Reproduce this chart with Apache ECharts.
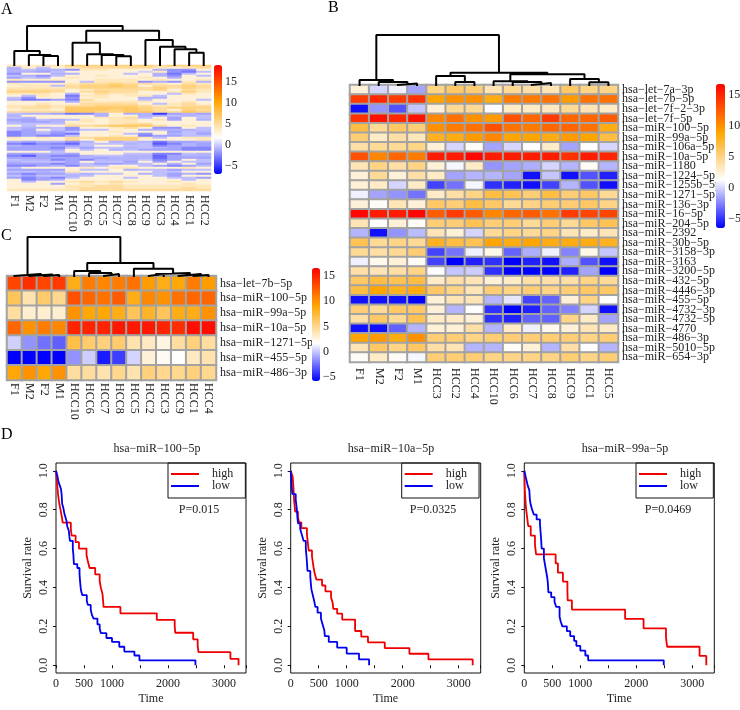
<!DOCTYPE html>
<html><head><meta charset="utf-8">
<style>html,body{margin:0;padding:0;background:#fff}#c{width:740px;height:710px}</style>
<script src="https://cdn.jsdelivr.net/npm/echarts@6/dist/echarts.min.js"></script>
</head><body><div id="c"></div>
<script>
const FONT='"Liberation Serif",serif';
const colsA=['F1','M2','F2','M1','HCC10','HCC6','HCC5','HCC7','HCC8','HCC9','HCC3','HCC4','HCC1','HCC2'];
const colsB=['F1','M2','F2','M1','HCC3','HCC2','HCC4','HCC10','HCC6','HCC7','HCC8','HCC9','HCC1','HCC5'];
const colsC=['F1','M2','F2','M1','HCC10','HCC6','HCC7','HCC8','HCC5','HCC2','HCC3','HCC9','HCC1','HCC4'];
const rowsB=['hsa−let−7a−3p','hsa−let−7b−5p','hsa−let−7f−2−3p','hsa−let−7f−5p','hsa−miR−100−5p','hsa−miR−99a−5p','hsa−miR−106a−5p','hsa−miR−10a−5p','hsa−miR−1180','hsa−miR−1224−5p','hsa−miR−1255b−5p','hsa−miR−1271−5p','hsa−miR−136−3p','hsa−miR−16−5p','hsa−miR−204−5p','hsa−miR−2392','hsa−miR−30b−5p','hsa−miR−3158−3p','hsa−miR−3163','hsa−miR−3200−5p','hsa−miR−432−5p','hsa−miR−4446−3p','hsa−miR−455−5p','hsa−miR−4732−3p','hsa−miR−4732−5p','hsa−miR−4770','hsa−miR−486−3p','hsa−miR−5010−5p','hsa−miR−654−3p'];
const rowsC=['hsa−let−7b−5p','hsa−miR−100−5p','hsa−miR−99a−5p','hsa−miR−10a−5p','hsa−miR−1271−5p','hsa−miR−455−5p','hsa−miR−486−3p'];
const valuesB=[
[2.5,0,0.8,-1.5,5,6,5.5,3.5,4.5,4,3.5,6,5,5],
[14,15,14,14.5,9,10,10,8.5,11,11,11.5,9.5,11.5,11.5],
[-6,-2,-4,-0.5,2.5,4.5,4.5,1.2,3,3,3.2,4.5,3.5,3],
[14.5,16,15,16,10.5,11.5,10,9.5,13,12,14,12,12,12.5],
[7,4.5,6,5.5,10,11,11.5,13,11.5,11,12,12,11.5,8.5],
[5.5,3,4,3.3,8,8.5,9.5,10.5,9,9,8.5,9.5,9,7],
[4,4.5,4.5,5,2.5,0,1.5,-1.5,0,1.2,3,-1.5,1.2,0],
[13,10.5,12,11,15.5,15.5,16.5,15.5,15.5,15.5,15.5,14.5,15.5,15],
[3.5,5,4,5,2.5,1,3,-2,-1.5,-1.2,0,-1,1.5,-1],
[2.5,4.5,2.5,4,3,-1.5,-1,-1,-1.5,-6,-0.5,-6,-4,-5.5],
[2.5,3,0,3,-4.5,-3,1,-5,-5.5,-6,-4.5,-1,-4,-6],
[0.8,-1.5,-2,-3,3,4,5,7,6.5,5.5,7,5.5,6,4.5],
[2.5,1.5,3.5,2.5,6,5.5,7,6,4.5,5,5.5,5.5,6,5],
[16.5,15.5,15.5,16.5,12.5,14,12.5,10.5,12,12.5,11.5,14,13.5,13.5],
[3.5,1.2,2.5,1.5,5.5,5.5,6.5,5.5,5.5,4.5,5.5,4.5,6,6.5],
[-1,-6,-2,-0.8,3.5,2.5,0,4.5,5,4.5,5,3.5,3,3.5],
[6.5,4.5,5,4.5,8,7,6.5,9,8.5,9,8.5,8.5,8.5,8],
[4.5,4,4.5,5.5,-4.5,-3,0.8,2,-3.5,-1.2,0.8,-2.5,2,-0.5],
[0.8,1.8,2.5,1.5,-4.5,-6.5,-5.5,-5,-6.5,-5.5,-6,-1.2,-4,-6],
[4,3.5,4,5,1.2,-0.5,-0.3,-5,-6.5,-6.5,-6.5,-5.5,-1.5,-6.5],
[6,7,6.5,7,3,4,3.5,2.5,3,4,4,4,5,4.5],
[7,9,8,8.5,6,5,3.5,5.5,5,5.5,5,5.5,6,6],
[-6,-6,-6,-6.5,2.5,3.5,3.5,-1,0.5,-4.5,-3.5,2.5,5,1.2],
[5.5,4.5,6,6,2.5,-1,1.2,-5,-6.5,-5.5,-3.5,-2.5,0,-6],
[4,6,4.5,6.5,3,3,2.5,-5,-5.5,-3.5,-3.5,5,3,-1.5],
[-6,-6,-3.5,-1,2.5,2.5,4,-1,3,0.8,1.8,2.5,3.5,3],
[9,9.5,8.5,10,5.5,5.5,5,5.5,5.5,5.5,5.5,5.5,5,5.5],
[3.5,6,5,6,4,3.5,-1,-1,1.5,2.5,-1,4,1.2,-1],
[1.5,3,1.5,1,5.5,5.5,5.5,5,5,5,5,5.5,5,5.5]];
const valuesC=[
[13.5,14.5,13.5,14,8.5,11,10.5,11,11.5,9.5,8.5,9,11,9.5],
[6.5,4,6,5,13,12,11.5,12.5,8.5,10.5,10,11.5,12,12],
[4.5,3,3,3,10,9,9,8.5,6.5,8,6.5,8.5,8.5,10],
[12,10,11,10.5,15,15,15,15.5,15.5,15.5,15,14.5,16,16],
[0.3,-1.5,-2.5,-3,7,6,5.5,6,4,3.5,2.5,4.5,5.5,4.5],
[-5.8,-5.8,-5.8,-5.8,-1.5,0.2,-5,-4,0.4,2.8,2,1.7,3.5,4],
[9,10,9,10,4.5,4.5,4,5,4,5.5,5,5,5.5,5]];
const valuesA=[
[4,3.5,4,4,6,6,6,6,6,6,5,6,6,6],
[-1,3.5,-0.5,3,4,5,5,5,5,5,4,3,4,5],
[-1,-0.5,-1,-1,-2,4,4,3,3,3,-1,-2,-2,3],
[-1,-1,-1.5,-0.5,3,3,3,3,3,0,4,-2,-3,-0.5],
[-2,3,3,-1,-1,3,3,3,-0.5,3,-1,-3,-0.5,3],
[-0.5,-1,-2,-0.5,3,3,4,3,3,3,-1,-2,3,-0.5],
[-1.5,-0.5,-1,3,4,3,3,3,3,4,3,-1,3,3],
[4,3.5,3.5,3.5,3,3,4,4,4,3,4,3,3,4],
[-2,-2,-2,-2,3,-0.5,4,4,4,-2,-1,-2,4,-1],
[4,3.5,3.5,3.5,4,5,5,6,5,5,4,3,5,4],
[3,4,4,-0.5,5,6,6,7,6,3,5,5,6,5],
[4,4,4,4,5,6,6,6,6,5,6,5,6,5],
[5,5,5,5,3,4,5,5,5,5,6,3,5,4],
[6,6,6,5,3,5,6,5,5,3,3,4,6,4],
[4,4,4,3,-1,3,5,4,4,3,3,-0.5,4,3],
[3,-0.5,4,3,-3,4,4,3,4,4,-0.5,3,3,3],
[-0.5,-2,3,3,-2,3,4,3,3,-1,-1,3,3,3],
[-1,-3,-2.5,-1.5,-2.5,5,3,3,3,-0.5,3,3,3,-0.5],
[3,3,3,3,-1,4,4,4,4,4,3,3,4,3],
[3,3,4,3,3,5,5,5,5,3,-0.5,4,5,3],
[4,4,5,4,5,5,6,6,6,5,4,4,5,5],
[4,5,5,4,7,7,7,7,7,6,5,6,6,6],
[3,4,4,3,7,7,7,6,7,6,5,3,6,5],
[5,5,5,5,7,7,6,6,7,7,5,5,7,6],
[-0.5,-1,-1,-1.5,-3,-2.5,-1,3,-1,-1,-5,-1.5,-1,-1.5],
[-1,3,3,3,3,3,-1,3,3,-1,-1,-0.5,-1,-0.5],
[-0.5,-1,3,3,3,3,4,4,5,-0.5,3,-1.5,3,-0.5],
[-1.5,-1.5,-0.5,-1,-0.5,4,3,4,4,3,4,-1.5,3,-1],
[-1,-1.5,-1.5,-1,3,4,3,4,4,3,3,3,3,3],
[-0.5,-0.5,-0.5,-0.5,4,3,3,4,5,5,3,3,3,3],
[3,-0.5,3,3,5,5,6,7,7,7,5,3,4,3],
[-0.5,-1,-1,-0.5,-2,3,3,4,5,3,-2,-2,3,-0.5],
[-0.5,-1.5,3,-0.5,-2,-0.5,-0.5,3,3,-1,-1,-1,-1,-0.5],
[-2.5,-1.5,-0.5,-1.5,-0.5,3,3,4,3,3,3,-1.5,-0.5,-1],
[-2.5,-1.5,-1,-2,-3,3,3,3,-0.5,-2,3,-1,-0.5,-1.5],
[-2.5,-1.5,-2.5,-2.5,-0.5,3,3,4,3,-2.5,-1.5,-1.5,-0.5,-0.5],
[4,3,4,3,5,5,6,6,6,4,-0.5,3,4,4],
[3,3,3,3,5,3,6,6,6,3,3,3,3,4],
[-1,-1.5,-1,-1,-2,-1,3,-1,-0.5,-1,-3,-1.5,-1.5,-1],
[-2.5,-3.5,-2,-2.5,-3.5,-0.5,-0.5,-0.5,-1,-0.5,-4,-2.5,-1,-1.5],
[-1,-1.5,-1.5,-1.5,-1.5,-0.5,3,3,-0.5,-0.5,-2.5,-1.5,-1,-1.5],
[-1.5,-1.5,-1.5,-2.5,-0.5,-1.5,-0.5,-0.5,-1,-0.5,-1,-1.5,-2.5,-2.5],
[-1.5,-1.5,-1.5,-1.5,3,-0.5,3,-1,-0.5,-1.5,-1.5,-1.5,-2.5,-2.5],
[3,3,3,-0.5,3,3,3,3,3,3,3,3,3,3],
[-1.5,-1.5,-1,-1,-1.5,3,3,3,-0.5,-0.5,-2.5,-2.5,-0.5,-1],
[-2.5,-4,-1.5,-2.5,-2.5,-1,-0.5,-0.5,-1,-1,-3.5,-1.5,-1,-1],
[-1.5,-1.5,-1.5,-1.5,-1.5,-1,-1.5,-1,-1,-1,-3.5,-1.5,-1.5,-1.5],
[-0.5,-1,-1,-2.5,-1.5,-2.5,-1,-1,-1,-0.5,-2.5,-1.5,3,-0.5],
[-1,-0.5,-0.5,-0.5,-1.5,3,-0.5,-0.5,-1.5,3,-1.5,3,-0.5,-0.5],
[-1.5,-1.5,-1.5,-2.5,-1.5,-0.5,-1.5,-1.5,-1,-0.5,3,-1,3,-1.5],
[-2.5,-2.5,-1.5,-1,-2.5,-0.5,-0.5,3,3,-0.5,-1.5,-2.5,-1.5,-0.5],
[-0.5,3,3,3,3,4,3,4,4,3,3,3,4,3],
[-1.5,-1.5,-1.5,-1.5,3,-0.5,-0.5,3,-1,-0.5,-0.5,-1.5,-0.5,-0.5],
[-0.5,-0.5,-1,-0.5,4,3,3,3,3,3,-0.5,-0.5,3,3],
[-1.5,-2.5,-1.5,-1.5,-0.5,-1,-0.5,-0.5,3,-1,-0.5,-1.5,-1,-2],
[-0.5,-1.5,-0.5,-0.5,-1,-0.5,3,3,3,3,-0.5,-1.5,3,3],
[-1.5,-2.5,-1.5,-2.5,-0.5,3,3,3,-0.5,3,3,-0.5,-0.5,-1.5],
[3,-2.5,-1.5,-1,3,3,3,3,3,3,3,3,-0.5,3],
[3,-0.5,3,3,4,5,4,5,4,3,3,4,3,3],
[3,3,3,-1.5,3,4,3,4,3,3,3,3,4,3],
[3,3,3,3,4,4,5,5,4,4,4,4,4,4],
[3,3,3,3,4,5,5,5,4,4,4,4,5,4],
[4,4,4,4,4,5,5,5,5,5,5,5,5,5]];
// cluster trees: [left, right, merge height]; a plain number is a leaf column
const treeA=[[0,[1,[2,3,9],10],14],[[4,[5,[6,[7,8,8.7],10],10.7],22.3],[9,[10,[11,[12,13,12.3],15.7],18.3],25],34.3],39];
const treeB=[[0,[1,[2,3,1.5],3],5],[[4,[5,6,3],9],[[7,[8,[9,10,2],3],3.7],[11,[12,13,2.7],6],10.7],12.3],50];
const treeC=[[0,[1,[2,3,1],1.5],2],[[4,[5,[6,7,2],3],5],[8,[[9,10,2],[11,[12,13,1],2],3],7.3],13],39];
const ticksBar=[-5,0,5,10,15];
const rangeA=[-7,19], rangeB=[-6.5,16.8], rangeC=[-5.8,16.6];
const palette=['#0000ff','#ffffff','#ffa500','#ff0000'];
const survTicksX=[0,500,1000,2000,3000];
const survTicksY=[0,0.2,0.4,0.6,0.8,1];
const panelTitles=['hsa−miR−100−5p','hsa−miR−10a−5p','hsa−miR−99a−5p'];
const panelP=['P=0.015','P=0.0325','P=0.0469'];
const high1T=[0,10,20,30,40,60,80,100,120,265,280,350,410,545,570,600,700,780,800,830,840,850,1150,1800,2120,2130,2450,2530,2545,3115,3260];
const high1S=[1,.97,.93,.9,.87,.83,.8,.77,.733,.7,.667,.633,.6,.567,.533,.5,.467,.433,.4,.367,.333,.3,.267,.233,.2,.167,.133,.1,.067,.033,0];
const low1T=[0,20,40,60,90,100,110,130,150,170,190,200,230,240,250,300,310,320,380,420,430,440,450,470,550,570,620,640,670,740,780,800,900,1000,1130,1220,1400,1490,2490];
const low1S=[1,.98,.95,.93,.905,.88,.83,.81,.78,.76,.74,.715,.69,.66,.64,.6,.57,.52,.5,.47,.43,.4,.38,.36,.33,.31,.285,.26,.24,.21,.19,.165,.14,.12,.095,.07,.05,.025,0];
const high2T=[0,35,50,60,80,130,150,190,290,310,320,380,410,430,460,560,620,720,750,760,830,920,1150,1260,1380,1680,2120,2460,3250];
const high2S=[1,.97,.91,.85,.79,.76,.735,.705,.67,.62,.59,.56,.5,.47,.44,.41,.38,.35,.32,.29,.265,.235,.176,.147,.118,.088,.059,.03,0];
const low2T=[0,10,20,30,90,110,120,130,170,200,230,270,285,300,350,360,370,395,420,440,480,540,570,600,610,680,830,1000,1220,1400];
const low2S=[1,.95,.91,.88,.85,.8,.76,.73,.7,.67,.64,.6,.55,.485,.455,.42,.39,.36,.33,.3,.27,.24,.21,.18,.15,.12,.09,.06,.03,0];
const high3T=[0,10,20,30,50,70,115,190,210,560,600,690,770,775,850,1800,2130,2530,2550,3130,3250];
const high3S=[1,.9,.85,.81,.76,.715,.667,.62,.57,.524,.476,.43,.38,.333,.286,.238,.19,.143,.095,.048,0];
const low3T=[0,20,40,60,90,100,115,140,170,220,280,300,310,350,380,410,420,430,480,540,570,630,650,680,760,820,890,930,1000,1090,1140,2490];
const low3S=[1,.975,.95,.925,.9,.85,.825,.8,.775,.75,.725,.65,.6,.55,.5,.45,.425,.375,.35,.325,.3,.25,.225,.2,.175,.15,.125,.1,.075,.05,.025,0];

const zip=(a,b)=>a.map((v,i)=>[v,b[i]]);
const cells=m=>m.flatMap((r,y)=>r.map((v,x)=>[x,y,v]));
function treeLines(node,out){
  if(typeof node==='number')return [node+0.5,0];
  const L=treeLines(node[0],out),R=treeLines(node[1],out),h=node[2];
  out.push([L[0],L[1]],[L[0],h],[R[0],h],[R[0],R[1]],['-','-']);
  return [(L[0]+R[0])/2,h];
}
const treeData=t=>{const o=[];treeLines(t,o);return o;};

const grid=[],xAxis=[],yAxis=[],series=[],visualMap=[],title=[],legend=[];
const txt=(size)=>({fontFamily:FONT,fontSize:size,color:'#222'});
function heatPanel(o){
  const g=grid.length;
  grid.push({left:o.x,top:o.y,width:o.w,height:o.h});
  xAxis.push({gridIndex:g,type:'category',data:o.cols,position:'bottom',axisLine:{show:false},axisTick:{show:false},splitLine:{show:false},
    axisLabel:{interval:0,rotate:-90,margin:o.colMargin,...txt(12)}});
  yAxis.push({gridIndex:g,type:'category',data:o.rows,inverse:true,position:'right',axisLine:{show:false},axisTick:{show:false},splitLine:{show:false},
    axisLabel:{show:o.showRows,interval:0,margin:o.rowMargin,...txt(12)}});
  const hs=series.length;
  series.push({type:'heatmap',xAxisIndex:g,yAxisIndex:g,data:cells(o.values),silent:true,
    itemStyle:o.border?{borderColor:'#a3a3a3',borderWidth:o.border}:{},emphasis:{disabled:true}});
  grid.push({left:o.x,top:o.y-o.dh,width:o.w,height:o.dh});
  xAxis.push({gridIndex:g+1,type:'value',min:0,max:14,show:false});
  yAxis.push({gridIndex:g+1,type:'value',min:0,max:o.dh,show:false});
  series.push({type:'line',xAxisIndex:g+1,yAxisIndex:g+1,data:treeData(o.tree),showSymbol:false,clip:false,silent:true,
    connectNulls:false,lineStyle:{color:'#000',width:2,cap:'square'}});
  visualMap.push({type:'continuous',seriesIndex:hs,dimension:2,min:o.range[0],max:o.range[1],calculable:false,hoverLink:false,
    inRange:{color:palette},left:o.bx,top:o.by,itemWidth:o.bw,itemHeight:o.bh,padding:0,text:null,textStyle:{fontSize:0},align:'left'});
  grid.push({left:o.bx+o.bw-1,top:o.by,width:1,height:o.bh});
  xAxis.push({gridIndex:g+2,type:'value',show:false,min:0,max:1});
  yAxis.push({gridIndex:g+2,type:'value',position:'right',min:o.range[0],max:o.range[1],axisLine:{show:false},splitLine:{show:false},
    axisTick:{show:false,customValues:ticksBar},
    axisLabel:{customValues:ticksBar,margin:o.barMargin,showMinLabel:true,showMaxLabel:true,formatter:v=>String(v).replace('-','−'),...txt(12)}});
}
heatPanel({x:7,y:65,w:204,h:126,dh:42,cols:colsA,rows:valuesA.map((_,i)=>'r'+i),showRows:false,values:valuesA,tree:treeA,range:rangeA,border:0,colMargin:4,rowMargin:3,
  bx:214,by:65,bw:8,bh:109,barMargin:3});
heatPanel({x:350,y:85,w:268,h:277,dh:54,cols:colsB,rows:rowsB,showRows:true,values:valuesB,tree:treeB,range:rangeB,border:2,colMargin:6,rowMargin:4,
  bx:716,by:84,bw:9,bh:144,barMargin:4});
heatPanel({x:7,y:276,w:209,h:104,dh:42,cols:colsC,rows:rowsC,showRows:true,values:valuesC,tree:treeC,range:rangeC,border:2,colMargin:3,rowMargin:4,
  bx:312,by:268,bw:8,bh:113,barMargin:3});

const survLefts=[56,290.7,524.3], legendLefts=[168,401.7,636], pX=[199,433,668], titleX=[157,391,625], gridW=190;
const survData=[[high1T,high1S,low1T,low1S],[high2T,high2S,low2T,low2S],[high3T,high3S,low3T,low3S]];
survData.forEach((d,i)=>{
  const g=grid.length;
  grid.push({left:survLefts[i],top:463,width:gridW,height:210,show:true,borderColor:'#111',borderWidth:1,backgroundColor:'transparent'});
  xAxis.push({gridIndex:g,type:'value',min:0,max:3393,interval:500,name:'Time',nameLocation:'middle',nameGap:20,nameMoveOverlap:false,nameTextStyle:txt(12),
    axisLine:{show:false},splitLine:{show:false},axisTick:{length:3,lineStyle:{color:'#111'}},
    axisLabel:{customValues:survTicksX,margin:5,formatter:v=>String(v),...txt(12)}});
  yAxis.push({gridIndex:g,type:'value',min:-0.04,max:1.04,name:'Survival rate',nameLocation:'middle',nameGap:22,nameMoveOverlap:false,nameTextStyle:txt(12),
    axisLine:{show:false},splitLine:{show:false},axisTick:{length:3,customValues:survTicksY,lineStyle:{color:'#111'}},
    axisLabel:{customValues:survTicksY,rotate:90,margin:6,formatter:v=>v.toFixed(1),...txt(12)}});
  series.push({name:'high',type:'line',step:'end',xAxisIndex:g,yAxisIndex:g,data:zip(d[0],d[1]),showSymbol:false,silent:true,color:'#ee0000',lineStyle:{width:1.8}});
  series.push({name:'low',type:'line',step:'end',xAxisIndex:g,yAxisIndex:g,data:zip(d[2],d[3]),showSymbol:false,silent:true,color:'#0000ee',lineStyle:{width:1.8}});
  legend.push({data:['high','low'],orient:'vertical',left:legendLefts[i],top:463,padding:[5,12,6,3],itemGap:0,itemWidth:28,itemHeight:2,icon:'rect',
    borderColor:'#111',borderWidth:1,borderRadius:0,selectedMode:false,textStyle:{...txt(12),lineHeight:11,padding:[0,0,0,8]}});
  title.push({text:panelTitles[i],left:titleX[i],top:443,textAlign:'center',padding:0,textStyle:{...txt(12),fontWeight:'normal'}});
  title.push({text:panelP[i],left:pX[i],top:504,textAlign:'center',padding:0,textStyle:{...txt(12),fontWeight:'normal'}});
});
[['A',1,2],['B',328,0],['C',1,228],['D',1,427]].forEach(([t,x,y])=>title.push({text:t,left:x,top:y,padding:0,textStyle:{...txt(16),fontWeight:'normal',color:'#000'}}));

const chart=echarts.init(document.getElementById('c'),null,{renderer:'canvas'});
chart.setOption({animation:false,backgroundColor:'#fff',title,grid,xAxis,yAxis,series,visualMap,legend,tooltip:{show:false}});
</script></body></html>
